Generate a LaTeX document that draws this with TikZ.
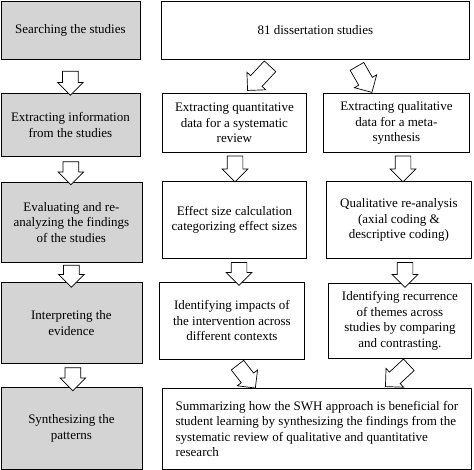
\documentclass[tikz,border=0pt]{standalone}
\usepackage{fontspec}
\setmainfont{Liberation Serif}
\usetikzlibrary{shapes.arrows,calc}
\definecolor{boxgray}{RGB}{212,212,212}
\begin{document}
\begin{tikzpicture}[x=1pt,y=-1pt,
  box/.style={draw, line width=0.8pt, inner sep=0pt, anchor=north west, align=center,
    fill=white, font=\fontsize{13}{15.5}\selectfont},
  gbox/.style={box, fill=boxgray},
  barrow/.style={single arrow, draw, fill=white, line width=0.7pt, inner xsep=0pt,
    inner ysep=7.5pt, single arrow head extend=5pt, single arrow head indent=0pt,
    single arrow tip angle=90},
]
\useasboundingbox (0,0) rectangle (474,470);
% left column
\node[gbox, minimum width=139pt, minimum height=58pt] (L1) at (0.5,1) {Searching the studies};
\node[gbox, minimum width=139pt, minimum height=63pt] (L2) at (0.5,93) {Extracting information\\from the studies};
\node[gbox, minimum width=141pt, minimum height=80pt] (L3) at (0.5,182) {Evaluating and re-\\analyzing the findings\\of the studies};
\node[gbox, minimum width=141pt, minimum height=81pt] (L4) at (0.5,282) {Interpreting the\\evidence};
\node[gbox, minimum width=141pt, minimum height=82pt] (L5) at (0.5,387) {Synthesizing the\\patterns};
% right column
\node[box, minimum width=308pt, minimum height=58pt] (R1) at (161,1) {81 dissertation studies};
\node[box, minimum width=144pt, minimum height=59pt] (R2a) at (162,93) {Extracting quantitative\\data for a systematic\\review};
\node[box, minimum width=146pt, minimum height=59pt] (R2b) at (323,93) {Extracting qualitative\\data for a meta-\\synthesis};
\node[box, minimum width=144pt, minimum height=77pt] (R3a) at (162,181) {Effect size calculation\\categorizing effect sizes};
\node[box, minimum width=145pt, minimum height=77pt] (R3b) at (326,181) {Qualitative re-analysis\\(axial coding \&\\descriptive coding)};
\node[box, minimum width=145pt, minimum height=77pt] (R4a) at (159,282) {Identifying impacts of\\the intervention across\\different contexts};
\node[box, minimum width=143pt, minimum height=75pt] (R4b) at (328,283) {Identifying recurrence\\of themes across\\studies by comparing\\and contrasting.};
\node[box, minimum width=309pt, minimum height=81pt, align=left] (R5) at (162,388) {Summarizing how the SWH approach is beneficial for\\student learning by synthesizing the findings from the\\systematic review of qualitative and quantitative\\research};
% left arrows
\node[barrow, rotate=-90, minimum height=24pt] (a1) at ($(L1.south)!0.5!(L2.north)+(0,3)$) {};
\node[barrow, rotate=-90, minimum height=23pt] (a2) at ($(L2.south)!0.5!(L3.north)$) {};
\node[barrow, rotate=-90, minimum height=22pt] (a3) at ($(L3.south)!0.5!(L4.north)$) {};
\node[barrow, rotate=-90, minimum height=23pt] (a4) at ($(L4.south)!0.5!(L5.north)+(1.5,0)$) {};
% right vertical arrows
\node[barrow, rotate=-90, minimum height=26pt] (b1) at (235,165) {};
\node[barrow, rotate=-90, minimum height=26pt] (b2) at (403,165) {};
\node[barrow, rotate=-90, minimum height=23pt] (b3) at (239,270) {};
\node[barrow, rotate=-90, minimum height=25pt] (b4) at (405,271) {};
% diagonal arrows
\node[barrow, rotate=-133, minimum height=33pt] (c1) at (261.5,75.5) {};
\node[barrow, rotate=-60, minimum height=30pt] (c2) at (362.5,76) {};
\node[barrow, rotate=-52, minimum height=29pt] (c3) at (244,373.5) {};
\node[barrow, rotate=-137, minimum height=32pt] (c4) at (400,373) {};
\end{tikzpicture}
\end{document}
